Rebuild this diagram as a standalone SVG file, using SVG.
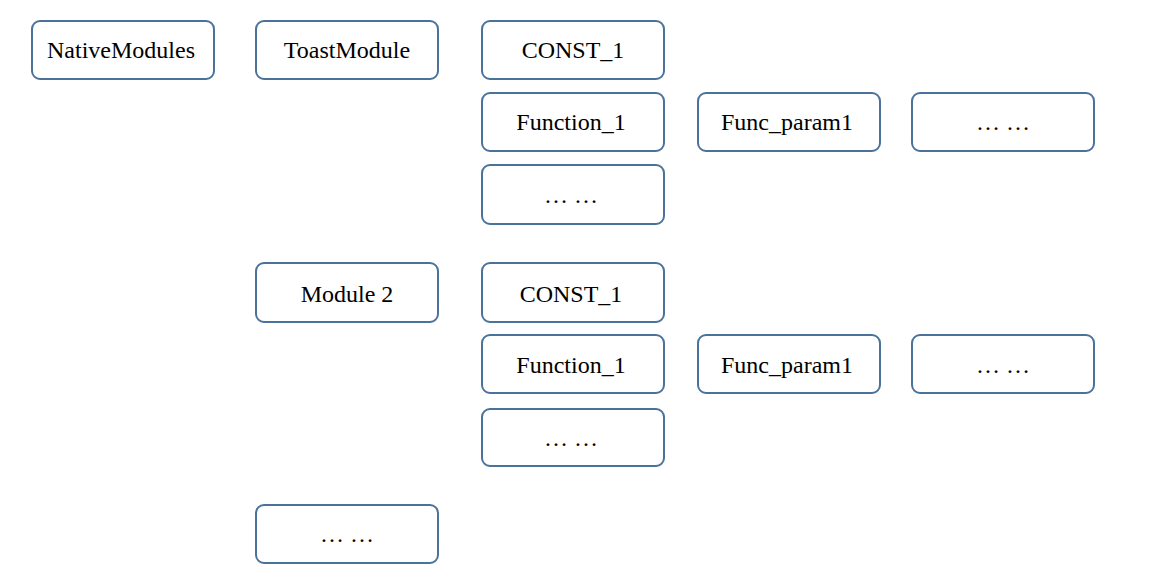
<svg xmlns="http://www.w3.org/2000/svg" width="1164" height="584" viewBox="0 0 1164 584">
<style>
.b{fill:#fff;stroke:#4a729a;stroke-width:2}
.t{font-family:"Liberation Serif","Times New Roman",serif;font-size:24px;fill:#000;text-anchor:middle}
</style>
<rect width="1164" height="584" fill="#fff"/>
<g id="connectors"></g>
<g id="n1"><rect class="b" x="32" y="21" width="182" height="58" rx="8"/><text class="t" x="121" y="58">NativeModules</text></g>
<g id="n2"><rect class="b" x="256" y="21" width="182" height="58" rx="8"/><text class="t" x="347" y="58">ToastModule</text></g>
<g id="n3"><rect class="b" x="482" y="21" width="182" height="58" rx="8"/><text class="t" x="573" y="58">CONST_1</text></g>
<g id="n4"><rect class="b" x="482" y="93" width="182" height="58" rx="8"/><text class="t" x="571" y="130">Function_1</text></g>
<g id="n5"><rect class="b" x="698" y="93" width="182" height="58" rx="8"/><text class="t" x="787" y="130">Func_param1</text></g>
<g id="n6"><rect class="b" x="912" y="93" width="182" height="58" rx="8"/><text class="t" x="1003" y="130">… …</text></g>
<g id="n7"><rect class="b" x="482" y="165" width="182" height="59" rx="8"/><text class="t" x="571" y="203">… …</text></g>
<g id="n8"><rect class="b" x="256" y="263" width="182" height="59" rx="8"/><text class="t" x="347" y="302">Module 2</text></g>
<g id="n9"><rect class="b" x="482" y="263" width="182" height="59" rx="8"/><text class="t" x="571" y="302">CONST_1</text></g>
<g id="n10"><rect class="b" x="482" y="335" width="182" height="58" rx="8"/><text class="t" x="571" y="373">Function_1</text></g>
<g id="n11"><rect class="b" x="698" y="335" width="182" height="58" rx="8"/><text class="t" x="787" y="373">Func_param1</text></g>
<g id="n12"><rect class="b" x="912" y="335" width="182" height="58" rx="8"/><text class="t" x="1003" y="373">… …</text></g>
<g id="n13"><rect class="b" x="482" y="409" width="182" height="57" rx="8"/><text class="t" x="571" y="446">… …</text></g>
<g id="n14"><rect class="b" x="256" y="505" width="182" height="58" rx="8"/><text class="t" x="347" y="542">… …</text></g>
</svg>
